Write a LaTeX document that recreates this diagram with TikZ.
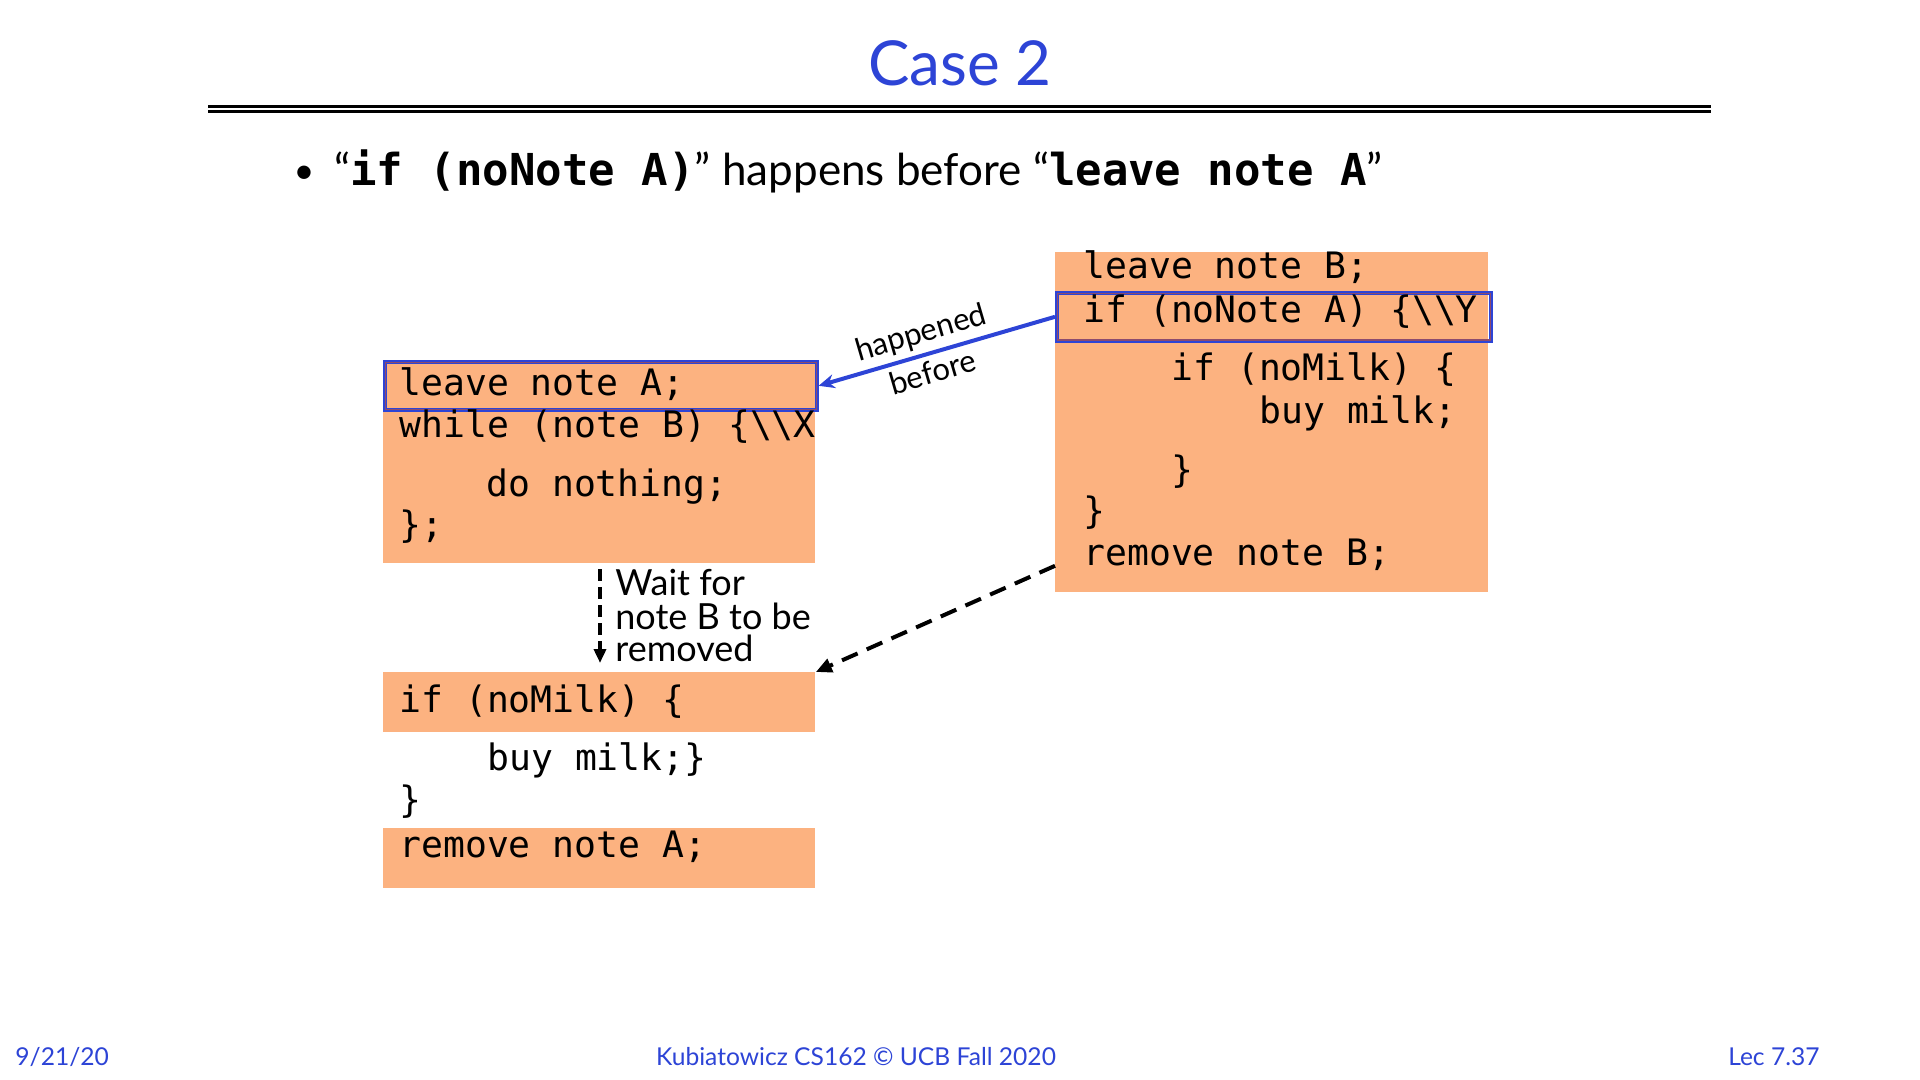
\documentclass[tikz,border=0pt]{standalone}
\usepackage{fontspec}
\setmainfont{Lato}
\setmonofont{DejaVu Sans Mono}
\usetikzlibrary{calc,arrows.meta}
\newcommand{\pxunit}{0.5pt}
\definecolor{slideblue}{RGB}{45,68,214}
\definecolor{notefill}{RGB}{252,178,128}
\definecolor{hlinner}{RGB}{140,75,110}
\newcommand{\bs}{\textbackslash}
\newcommand{\codeline}[4]{
	\node[code] (#1) at (#2,#3) {#4};
}
\newcommand{\hlrim}[1]{
	\draw[hlinner, line width=0.7pt] ([shift={(1.2pt,-1.2pt)}]#1.north west) rectangle ([shift={(-1.2pt,1.2pt)}]#1.south east);
}

\begin{document}
\begin{tikzpicture}[x=\pxunit,y=-\pxunit,
	code/.style={anchor=base west, inner sep=0pt, font=\fontsize{18.2}{20}\selectfont\ttfamily},
	notebox/.style={anchor=north west, fill=notefill, inner sep=0pt},
	hlbox/.style={anchor=north west, draw=slideblue, line width=1.8pt, inner sep=0pt},
	waittext/.style={anchor=base west, inner sep=0pt, font=\fontsize{18}{18}\selectfont},
	footer/.style={inner sep=0pt, text=slideblue, font=\fontsize{12.3}{12}\selectfont}
]
	\useasboundingbox (0,0) rectangle (1920,1080);

	% heading
	\node[anchor=base, text=slideblue, font=\fontsize{31}{31}\selectfont] (title) at (960,86) {Case 2};
	\draw[line width=1.5pt] (208,107) -- (1711,107);
	\draw[line width=1.1pt] (208,111.5) -- (1711,111.5);
	\node[anchor=base, inner sep=0pt, font=\fontsize{18}{18}\selectfont] (bullet) at (304,184) {•};
	\node[anchor=base west, inner sep=0pt, font=\fontsize{22}{22}\selectfont] (claim) at (334,186)
		{“{\ttfamily\bfseries if (noNote A)}” happens before “{\ttfamily\bfseries leave note A}”};

	% thread A
	\node[notebox, minimum width=216pt, minimum height=101.5pt] (threadA) at (383,360) {};
	\node[notebox, minimum width=216pt, minimum height=30pt] (milkA) at (383,672) {};
	\node[notebox, minimum width=216pt, minimum height=30pt] (doneA) at (383,828) {};
	\node[hlbox, minimum width=216pt, minimum height=24pt] (hlA) at (383,360) {};
	\hlrim{hlA}

	% thread B
	\node[notebox, minimum width=216.5pt, minimum height=170pt] (threadB) at (1055,252) {};
	\node[hlbox, minimum width=217pt, minimum height=24pt] (hlB) at (1055,291) {};
	\hlrim{hlB}

	\codeline{leaveA}{399}{395}{leave note A;}
	\codeline{whileA}{399}{437}{while (note B) \{\bs\bs X}
	\codeline{nothingA}{486}{496}{do nothing;}
	\codeline{endwhileA}{399}{537}{\};}
	\codeline{ifmilkA}{399}{712}{if (noMilk) \{}
	\codeline{buyA}{487}{770}{buy milk;\}}
	\codeline{closeA}{399}{812}{\}}
	\codeline{removeA}{399}{857}{remove note A;}

	\codeline{leaveB}{1083}{279}{leave note B;}
	\codeline{ifnoteB}{1083}{322}{if (noNote A) \{\bs\bs Y}
	\codeline{ifmilkB}{1171}{380}{if (noMilk) \{}
	\codeline{buyB}{1259}{423}{buy milk;}
	\codeline{closeinB}{1171}{482}{\}}
	\codeline{closeoutB}{1083}{523}{\}}
	\codeline{removeB}{1083}{565}{remove note B;}

	% ordering arrows
	\draw[slideblue, line width=2pt, -{Stealth[length=8pt,width=7pt]}] (hlB.west) --
		node[pos=0.54, sloped, above, inner sep=2.5pt, text=black, font=\fontsize{15.5}{15}\selectfont] (happened) {happened}
		node[pos=0.54, sloped, below, inner sep=2.5pt, text=black, font=\fontsize{15.5}{15}\selectfont] (before) {before}
		(hlA.east);
	\draw[line width=2pt, dash pattern=on 8.5pt off 5pt, -{Triangle[length=8pt,width=7pt]}]
		([yshift=13.5pt]threadB.south west) -- (milkA.north east);

	\coordinate (waittop) at (600,569);
	\draw[line width=2pt, dash pattern=on 6pt off 3pt, -{Triangle[length=7pt,width=6pt]}]
		(waittop) -- ($(waittop |- milkA.north)+(0,-9)$);
	\node[waittext] (wait1) at (615,595) {Wait for};
	\node[waittext] (wait2) at (615,629) {note B to be};
	\node[waittext] (wait3) at (615,661) {removed};

	% footer
	\node[footer, anchor=base west] (date) at (15,1065) {9/21/20};
	\node[footer, anchor=base] (course) at (856,1065) {Kubiatowicz CS162 © UCB Fall 2020};
	\node[footer, anchor=base east] (lec) at (1820,1065) {Lec 7.37};
\end{tikzpicture}
\end{document}
